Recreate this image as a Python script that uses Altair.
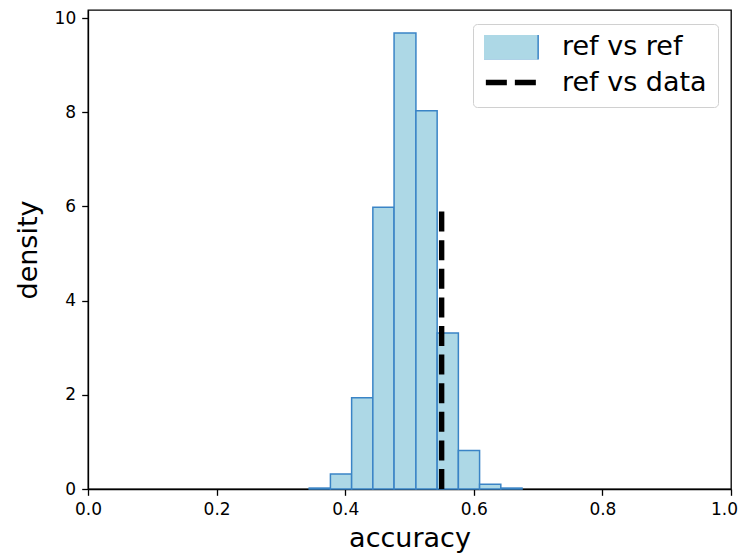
import altair as alt
import pandas as pd

# ---- data ----
bin_edges = [0.344, 0.377, 0.410, 0.443, 0.476, 0.510, 0.543, 0.576, 0.609, 0.642, 0.675]
density = [0.02, 0.32, 1.94, 5.98, 9.68, 8.03, 3.31, 0.82, 0.10, 0.02]
series_names = ["ref vs ref", "ref vs data"]
ref_vs_data_x = [0.55]
ref_vs_data_bottom = [0.0]
ref_vs_data_top = [5.9]
x_ticks = [0.0, 0.2, 0.4, 0.6, 0.8, 1.0]
y_ticks = [0, 2, 4, 6, 8, 10]

hist = pd.DataFrame({
    "start": bin_edges[:-1],
    "end": bin_edges[1:],
    "density": density,
    "series": [series_names[0]] * len(density),
})
line_df = pd.DataFrame({"x": ref_vs_data_x, "y0": ref_vs_data_bottom, "y1": ref_vs_data_top})

FONT = "DejaVu Sans"
EDGE = "#3a84c6"

legend = alt.Legend(
    title=None,
    orient="none",
    legendX=385,
    legendY=14,
    labelFont=FONT,
    labelFontSize=27,
    labelColor="black",
    labelOffset=51,
    symbolType={"expr": "datum.value == 'ref vs ref' ? 'M-1,-0.34H1V0.34H-1Z' : 'M-1,0H1'"},
    symbolSize=6610,
    symbolStrokeColor={"expr": "datum.value == 'ref vs ref' ? '#3a84c6' : '#000000'"},
    symbolStrokeWidth={"expr": "datum.value == 'ref vs ref' ? 1.5 : 5.4"},
    symbolDash={"expr": "datum.value == 'ref vs ref' ? [] : [21, 8]"},
    symbolOpacity=1,
    clipHeight=23,
    rowPadding=8,
    padding=11,
    strokeColor="#d0d0d0",
    cornerRadius=4,
    fillColor="white",
)

bars = alt.Chart(hist).mark_bar(stroke=EDGE, strokeWidth=1.5, opacity=1).encode(
    x=alt.X(
        "start:Q",
        scale=alt.Scale(domain=[0, 1], nice=False, zero=False),
        axis=alt.Axis(values=x_ticks, format=".1f", title="accuracy", labelFlush=False,
                      grid=False, titlePadding=8,
                      labelOffset={"condition": {"test": "datum.value >= 1", "value": -7}, "value": 0}),
    ),
    x2="end:Q",
    y=alt.Y(
        "density:Q",
        scale=alt.Scale(domain=[0, 10.17], nice=False),
        axis=alt.Axis(values=y_ticks, format="d", title="density", grid=False, titlePadding=12),
    ),
    y2=alt.datum(0),
    color=alt.Color(
        "series:N",
        scale=alt.Scale(domain=series_names, range=["#add8e6", "#000000"]),
        legend=legend,
    ),
)

rule = alt.Chart(line_df).mark_rule(color="black", strokeWidth=5.4, strokeDash=[20, 8.6]).encode(
    x="x:Q",
    y="y0:Q",
    y2="y1:Q",
)

chart = alt.layer(bars, rule).properties(
    width=643,
    height=479,
    autosize=alt.AutoSizeParams(type="none"),
    padding={"left": 80, "top": 2, "right": 8, "bottom": 64},
).configure_view(
    stroke="black", strokeWidth=1.3
).configure_axis(
    domainColor="black", domainWidth=1.3,
    tickColor="black", tickWidth=1.3, tickSize=6.3,
    labelFont=FONT, labelFontSize=17, labelColor="black", labelPadding=6,
    titleFont=FONT, titleFontSize=27, titleFontWeight="normal", titleColor="black",
)

chart.save("out.html", embed_options={"renderer": "svg", "actions": False})
